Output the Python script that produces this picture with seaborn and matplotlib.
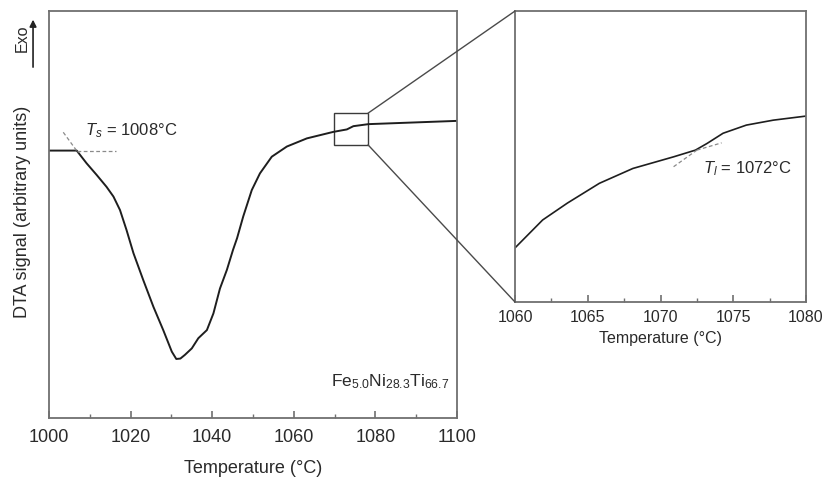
import numpy as np
import pandas as pd
import matplotlib
matplotlib.use("Agg")
import matplotlib.pyplot as plt
from matplotlib.patches import Rectangle, ConnectionPatch, FancyArrowPatch
from matplotlib.ticker import MultipleLocator
import seaborn as sns

# ---- data (y in arbitrary units 0-100) ----
main_temp = [1000.0, 1006.8, 1009.2, 1011.7, 1014.1, 1015.8, 1017.4, 1019.0, 1020.7,
             1023.1, 1025.6, 1028.0, 1030.1, 1031.2, 1032.2, 1033.3, 1035.0, 1036.6,
             1038.7, 1040.3, 1041.9, 1043.6, 1045.1, 1046.1, 1047.6, 1049.7, 1051.7,
             1054.6, 1058.3, 1063.2, 1069.7, 1073.0, 1074.6, 1078.3, 1100.0]
main_signal = [65.7, 65.7, 62.6, 59.7, 56.8, 54.4, 51.1, 46.2, 40.5,
               33.9, 27.3, 21.6, 16.3, 14.5, 14.6, 15.5, 17.1, 19.6,
               21.6, 25.7, 31.8, 36.4, 41.3, 44.2, 49.5, 56.0, 60.1,
               64.2, 66.7, 68.7, 70.3, 70.9, 71.7, 72.2, 73.0]

inset_temp = [1060.0, 1061.9, 1063.6, 1065.8, 1068.1, 1070.9, 1072.4, 1073.2,
              1074.3, 1075.9, 1077.75, 1080.0]
inset_signal = [18.6, 28.2, 34.0, 40.8, 45.9, 49.9, 52.2, 54.5, 58.0, 60.8, 62.5, 63.9]

ts_label = "1008°C"
tl_label = "1072°C"
alloy = r"Fe$_{5.0}$Ni$_{28.3}$Ti$_{66.7}$"

main_ticks = [1000, 1020, 1040, 1060, 1080, 1100]
inset_ticks = [1060, 1065, 1070, 1075, 1080]

# ---- style ----
sns.set_style("white")
plt.rcParams["font.family"] = ["Liberation Sans", "DejaVu Sans"]
plt.rcParams["mathtext.fontset"] = "custom"
plt.rcParams["mathtext.rm"] = "Liberation Sans"
plt.rcParams["mathtext.it"] = "Liberation Sans:italic"

spine_col = "#707070"
line_col = "#1e1e1e"
text_col = "#2a2a2a"

fig = plt.figure(figsize=(8.26, 4.82), dpi=100)
ax = fig.add_axes([0.0593, 0.1328, 0.494, 0.8444])
axi = fig.add_axes([0.6235, 0.3734, 0.3523, 0.6037])

df_main = pd.DataFrame({"T": main_temp, "S": main_signal})
df_in = pd.DataFrame({"T": inset_temp, "S": inset_signal})

sns.lineplot(data=df_main, x="T", y="S", ax=ax, color=line_col, lw=1.4, sort=False)
sns.lineplot(data=df_in, x="T", y="S", ax=axi, color=line_col, lw=1.2, sort=False)

for a in (ax, axi):
    for s in a.spines.values():
        s.set_color(spine_col)
        s.set_linewidth(1.3)
    a.set_yticks([])
    a.tick_params(axis="x", which="both", direction="in", colors=spine_col,
                  labelcolor=text_col, bottom=True)
    a.tick_params(axis="x", which="major", length=5, width=1.2)
    a.tick_params(axis="x", which="minor", length=3, width=1.0)
    a.set_ylabel("")

ax.set_xlim(1000, 1100)
ax.set_ylim(0, 100)
ax.set_xticks(main_ticks)
ax.xaxis.set_minor_locator(MultipleLocator(10))
ax.tick_params(axis="x", labelsize=13, pad=8)
ax.set_xlabel("Temperature (°C)", fontsize=13, color=text_col, labelpad=10)

axi.set_xlim(1060, 1080)
axi.set_ylim(0, 100)
axi.set_xticks(inset_ticks)
axi.xaxis.set_minor_locator(MultipleLocator(2.5))
axi.tick_params(axis="x", labelsize=11.5, pad=6)
axi.set_xlabel("Temperature (°C)", fontsize=11.5, color=text_col, labelpad=4)

# tangents (main)
dash_col = "#8a8a8a"
ax.plot([1006.8, 1016.5], [65.7, 65.7], ls=(0, (3, 2)), color=dash_col, lw=0.9)
ax.plot([1003.5, 1007.2], [70.2, 65.1], ls=(0, (3, 2)), color=dash_col, lw=0.9)
ax.text(1008.8, 70.5, r"$\it{T}_{s}$" + " = " + ts_label, fontsize=12, color=text_col,
        va="center", ha="left")

ax.text(1098, 9, alloy, fontsize=12.5, color=text_col, ha="right", va="center")

# tangents (inset)
axi.plot([1070.9, 1072.5], [46.5, 52.2], ls=(0, (3, 2)), color=dash_col, lw=0.9)
axi.plot([1072.5, 1074.2], [52.2, 54.7], ls=(0, (3, 2)), color=dash_col, lw=0.9)
axi.text(1072.9, 46.0, r"$\it{T}_{l}$" + " = " + tl_label, fontsize=12, color=text_col,
         va="center", ha="left")

# zoom box & connectors
bx0, bx1, by0, by1 = 1069.9, 1078.2, 67.1, 74.9
ax.add_patch(Rectangle((bx0, by0), bx1 - bx0, by1 - by0, fill=False,
                       edgecolor="#3a3a3a", lw=1.0))
for (xa, ya), (xb, yb) in [((bx1, by1), (1060, 100)), ((bx1, by0), (1060, 0))]:
    con = ConnectionPatch(xyA=(xa, ya), coordsA=ax.transData,
                          xyB=(xb, yb), coordsB=axi.transData,
                          color="#4a4a4a", lw=1.0)
    fig.add_artist(con)

# y label and Exo arrow
fig.text(0.027, 0.56, "DTA signal (arbitrary units)", rotation=90, fontsize=13,
         color=text_col, ha="center", va="center")
fig.text(0.027, 0.92, "Exo", rotation=90, fontsize=11.5, color=text_col,
         ha="center", va="center")
fig.add_artist(FancyArrowPatch(
    (0.040, 0.855), (0.040, 0.965), transform=fig.transFigure,
    arrowstyle="-|>,head_length=4,head_width=2", color="#222222", lw=1.2))

fig.savefig("out.png", dpi=100)
